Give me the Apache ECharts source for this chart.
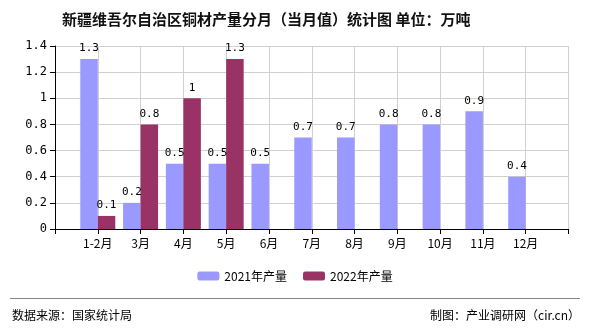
<!DOCTYPE html>
<html><head><meta charset="utf-8">
<script src="https://cdn.jsdelivr.net/npm/echarts@6/dist/echarts.min.js"></script>
<style>html,body{margin:0;padding:0;background:#fff}#c{width:590px;height:330px}</style>
</head><body><div id="c"></div>
<script>
const categories = ['', '1-2月', '3月', '4月', '5月', '6月', '7月', '8月', '9月', '10月', '11月', '12月', ''];
const series2021 = [null, 1.3, 0.2, 0.5, 0.5, 0.5, 0.7, 0.7, 0.8, 0.8, 0.9, 0.4, null];
const series2022 = [null, 0.1, 0.8, 1, 1.3, null, null, null, null, null, null, null, null];
const yTicks = [0, 0.2, 0.4, 0.6, 0.8, 1, 1.2, 1.4];
const seriesNames = ['2021年产量', '2022年产量'];
const titleText = '新疆维吾尔自治区铜材产量分月（当月值）统计图 单位：万吨';
const sourceText = '数据来源：国家统计局';
const creditText = '制图：产业调研网（cir.cn）';

const chart = echarts.init(document.getElementById('c'), null, {renderer: 'canvas'});
const labelStyle = {show: true, position: 'top', distance: 5, color: '#000', fontSize: 11, fontFamily: 'DejaVu Sans Mono', formatter: p => p.value == null ? '' : String(p.value)};
chart.setOption({
  animation: false,
  backgroundColor: '#fff',
  title: {text: titleText, left: 57, top: 7, textStyle: {fontSize: 15, fontWeight: 'bold', color: '#111', fontFamily: 'Noto Sans CJK SC'}},
  legend: {data: seriesNames, bottom: 43, left: 'center', itemWidth: 22, itemHeight: 9, itemGap: 16, textStyle: {fontSize: 12, color: '#000', fontFamily: 'Noto Sans CJK SC'}},
  grid: {left: 55, right: 21.5, top: 46, bottom: 101, containLabel: false},
  xAxis: {type: 'category', data: categories, boundaryGap: false,
    axisLine: {lineStyle: {color: '#000'}}, axisTick: {show: true, interval: 0, length: 5, lineStyle: {color: '#000'}},
    axisLabel: {interval: 0, color: '#000', fontSize: 12, margin: 8, fontFamily: 'Noto Sans CJK SC'},
    splitLine: {show: true, interval: 0, lineStyle: {color: '#d0d0d0'}}},
  yAxis: {type: 'value', min: yTicks[0], max: yTicks[yTicks.length - 1], interval: 0.2,
    axisLine: {show: true, lineStyle: {color: '#000'}}, axisTick: {show: true, length: 5, lineStyle: {color: '#000'}},
    axisLabel: {color: '#000', fontSize: 12, margin: 8, fontFamily: 'DejaVu Sans Mono', formatter: v => String(+v.toFixed(1))},
    splitLine: {show: true, lineStyle: {color: '#d0d0d0'}}},
  series: [
    {name: seriesNames[0], type: 'bar', data: series2021, barWidth: 17.5, barGap: '0%', itemStyle: {color: '#9999ff'}, label: labelStyle},
    {name: seriesNames[1], type: 'bar', data: series2022, barWidth: 17.5, barGap: '0%', itemStyle: {color: '#993366'}, label: labelStyle}
  ],
  graphic: [
    {type: 'line', shape: {x1: 10, y1: 298.5, x2: 580, y2: 298.5}, style: {stroke: '#888', lineWidth: 1}},
    {type: 'text', left: 12, top: 309, style: {text: sourceText, fontSize: 12, fill: '#000', fontFamily: 'Noto Sans CJK SC'}},
    {type: 'text', right: 10, top: 309, style: {text: creditText, fontSize: 12, fill: '#000', fontFamily: 'Noto Sans CJK SC'}}
  ]
});
</script></body></html>
